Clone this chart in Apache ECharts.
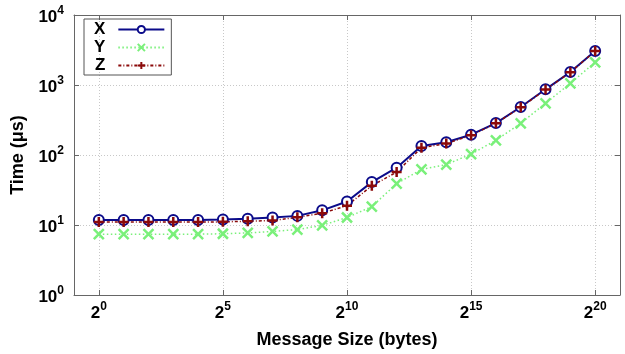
<!DOCTYPE html>
<html>
<head>
<meta charset="utf-8">
<script src="https://cdn.jsdelivr.net/npm/echarts@6/dist/echarts.min.js"></script>
<style>
  html, body { margin: 0; padding: 0; background: #fff; }
  #chart { width: 625px; height: 354px; }
</style>
</head>
<body>
<div id="chart"></div>
<script>
// Message sizes in bytes (2^0 .. 2^20)
const messageSizes = [1, 2, 4, 8, 16, 32, 64, 128, 256, 512, 1024, 2048, 4096,
  8192, 16384, 32768, 65536, 131072, 262144, 524288, 1048576];

// Measured times in microseconds
const timeX = [11.8, 11.8, 11.8, 11.8, 11.8, 12.0, 12.3, 12.8, 13.5, 16.2, 21.7,
  41, 66, 134, 152, 195, 286, 485, 868, 1530, 3060];
const timeY = [7.4, 7.4, 7.4, 7.4, 7.4, 7.5, 7.7, 8.1, 8.6, 9.9, 12.8,
  18.3, 39, 62.5, 73, 103, 162, 284, 548, 1057, 2110];
const timeZ = [11.0, 11.0, 11.0, 11.0, 11.0, 11.1, 11.3, 11.6, 12.9, 14.7, 18.9,
  36.4, 57, 127, 146, 191, 283, 480, 860, 1520, 3050];

// Tick positions
const xTickSizes = [1, 32, 1024, 32768, 1048576];
const yTickTimes = [1, 10, 100, 1000, 10000];

const FONT = 'Liberation Sans';

const pairs = (ys) => messageSizes.map((s, i) => [s, ys[i]]);

// base + raised exponent
const powRich = {
  b: { fontFamily: FONT, fontSize: 17, fontWeight: 'bold', color: '#000', verticalAlign: 'bottom' },
  s: { fontFamily: FONT, fontSize: 12, fontWeight: 'bold', color: '#000', verticalAlign: 'bottom', padding: [0, 0, 9, 0] }
};

const frameColor = '#666';
const gridLine = { show: true, lineStyle: { color: '#c8c8c8', type: [1, 2], width: 1 } };

function xAxisDef(primary) {
  return {
    type: 'log', logBase: 2, min: 0.5, max: 2097152,
    position: primary ? 'bottom' : 'top',
    axisLine: { show: true, onZero: false, lineStyle: { color: frameColor, width: 1 } },
    axisTick: { show: true, inside: true, length: 5, customValues: xTickSizes, lineStyle: { color: frameColor } },
    minorTick: { show: false },
    splitLine: primary ? gridLine : { show: false },
    axisLabel: primary ? {
      show: true, customValues: xTickSizes, margin: 6,
      formatter: (v) => '{b|2}{s|' + Math.round(Math.log2(v)) + '}',
      rich: powRich
    } : { show: false },
    name: primary ? 'Message Size (bytes)' : '',
    nameLocation: 'middle', nameGap: 36,
    nameTextStyle: { fontFamily: FONT, fontSize: 18, fontWeight: 'bold', color: '#000' }
  };
}

function yAxisDef(primary) {
  return {
    type: 'log', logBase: 10, min: 1, max: 10000,
    position: primary ? 'left' : 'right',
    axisLine: { show: true, onZero: false, lineStyle: { color: frameColor, width: 1 } },
    axisTick: { show: true, inside: true, length: 5, customValues: yTickTimes, lineStyle: { color: frameColor } },
    minorTick: { show: false },
    splitLine: primary ? gridLine : { show: false },
    axisLabel: primary ? {
      show: true, customValues: yTickTimes, margin: 10,
      formatter: (v) => '{b|10}{s|' + Math.round(Math.log10(v)) + '}',
      rich: powRich
    } : { show: false },
    name: primary ? 'Time (\u03bcs)' : '',
    nameLocation: 'middle', nameGap: 45,
    nameTextStyle: { fontFamily: FONT, fontSize: 18, fontWeight: 'bold', color: '#000' }
  };
}

const chart = echarts.init(document.getElementById('chart'), null, { renderer: 'canvas' });
chart.setOption({
  animation: false,
  backgroundColor: '#fff',
  grid: { left: 74, right: 5, top: 15, bottom: 58, containLabel: false },
  xAxis: [xAxisDef(true), xAxisDef(false)],
  yAxis: [yAxisDef(true), yAxisDef(false)],
  legend: {
    left: 84, top: 19, orient: 'vertical', align: 'right',
    itemWidth: 46, itemHeight: 9, itemGap: 1,
    padding: [2, 6, 1, 10],
    borderColor: '#555', borderWidth: 1,
    textStyle: { fontFamily: FONT, fontSize: 17, fontWeight: 'bold', color: '#000', lineHeight: 16, padding: [0, 8, 0, 0] },
    data: ['X', 'Y', 'Z']
  },
  series: [
    {
      name: 'X', type: 'line', data: pairs(timeX),
      symbol: 'emptyCircle', symbolSize: 10,
      lineStyle: { color: '#0b0b8a', width: 2 },
      itemStyle: { color: '#0b0b8a', borderColor: '#0b0b8a', borderWidth: 2 }
    },
    {
      name: 'Y', type: 'line', data: pairs(timeY),
      symbol: 'path://M0,0L10,10M10,0L0,10', symbolSize: 10,
      lineStyle: { color: '#7af07a', width: 1.5, type: [1.5, 2.5] },
      itemStyle: { color: 'none', borderColor: '#7af07a', borderWidth: 2.5 }
    },
    {
      name: 'Z', type: 'line', data: pairs(timeZ),
      symbol: 'path://M5,0L5,10M0,5L10,5', symbolSize: 10,
      lineStyle: { color: '#8b0a0a', width: 1.5, type: [3, 2, 1, 2] },
      itemStyle: { color: 'none', borderColor: '#8b0a0a', borderWidth: 2.5 }
    }
  ]
});
</script>
</body>
</html>
